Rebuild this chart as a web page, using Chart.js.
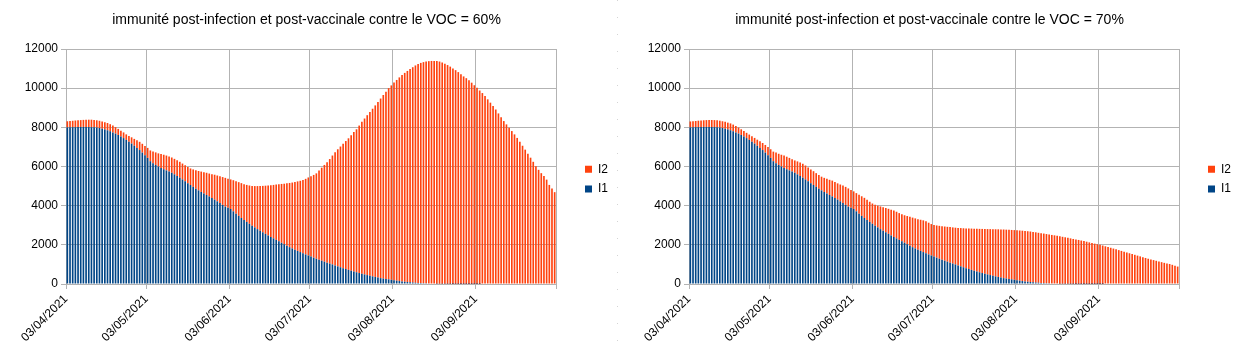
<!DOCTYPE html>
<html><head><meta charset="utf-8">
<script src="https://cdn.jsdelivr.net/npm/chart.js@4.4.1/dist/chart.umd.min.js"></script>
<style>
html,body{margin:0;padding:0;background:#fff;}
body{width:1236px;height:355px;position:relative;overflow:hidden;}
#c1{position:absolute;left:0;top:0;}
#c2{position:absolute;left:623px;top:0;}
#sep{position:absolute;left:617px;top:0;width:1px;height:355px;background:repeating-linear-gradient(to bottom,#d4d4d4 0px,#d4d4d4 1px,transparent 1px,transparent 17px);}
</style></head><body>
<canvas id="c1" width="613" height="355"></canvas>
<div id="sep"></div>
<canvas id="c2" width="613" height="355"></canvas>
<script>
// ---- data ----
const startDate = '03/04/2021';
const tickLabels = ['03/04/2021','03/05/2021','03/06/2021','03/07/2021','03/08/2021','03/09/2021'];
const seriesNames = ['I1','I2'];
const title60 = 'immunité post-infection et post-vaccinale contre le VOC = 60%';
const title70 = 'immunité post-infection et post-vaccinale contre le VOC = 70%';

const i1_60 = [
8000,8005,8010,8010,8015,8020,8020,8020,8015,8010,
8000,7990,7965,7930,7895,7850,7800,7740,7680,7610,
7530,7450,7360,7270,7170,7060,6950,6840,6710,6580,
6440,6270,6170,6080,6000,5920,5860,5800,5740,5680,
5600,5520,5430,5340,5245,5150,5055,4960,4870,4780,
4700,4620,4545,4470,4390,4310,4220,4130,4040,3950,
3890,3830,3710,3590,3480,3370,3270,3170,3075,2980,
2890,2800,2720,2640,2560,2480,2405,2330,2255,2180,
2105,2030,1955,1880,1815,1750,1690,1630,1570,1510,
1455,1400,1345,1290,1240,1190,1140,1090,1045,1000,
950,900,855,810,765,720,680,640,600,560,
525,490,455,420,390,360,330,300,280,260,
238,215,192,170,150,130,115,100,88,75,
65,55,48,40,35,30,26,22,18,15,
12,10,8,7,6,5,4,3,3,2,
2,1,1,1,1,0,0,0,0,0,
0,0,0,0,0,0,0,0,0,0,
0,0,0,0,0,0,0,0,0,0,
0,0,0];
const i2_60 = [
310,315,325,340,345,350,360,370,375,380,
380,370,370,370,365,370,360,350,330,310,
300,290,280,290,320,350,390,420,450,470,
510,550,600,640,670,720,740,760,770,780,
790,800,810,810,815,820,845,890,940,990,
1040,1090,1135,1170,1220,1270,1320,1370,1420,1470,
1490,1510,1590,1660,1720,1780,1830,1890,1955,2030,
2110,2200,2280,2370,2460,2550,2635,2730,2825,2920,
3005,3090,3185,3280,3365,3460,3550,3640,3740,3860,
3985,4100,4225,4360,4550,4750,4940,5130,5335,5560,
5780,5980,6165,6350,6535,6720,6920,7120,7300,7530,
7765,7960,8165,8360,8560,8760,8970,9170,9370,9560,
9762,9925,10098,10250,10400,10540,10665,10780,10892,10995,
11095,11175,11242,11290,11325,11350,11364,11368,11367,11345,
11298,11240,11172,11093,11004,10915,10816,10707,10597,10508,
10398,10279,10149,10019,9879,9750,9600,9430,9260,9090,
8910,8710,8510,8320,8150,7980,7810,7640,7460,7260,
7060,6860,6650,6450,6240,6010,5830,5660,5520,5330,
5060,4880,4690];

const i1_70 = [
8000,8005,8010,8010,8015,8020,8020,8020,8015,8010,
8000,7990,7965,7930,7895,7850,7800,7740,7680,7610,
7530,7450,7360,7270,7170,7060,6950,6840,6710,6580,
6440,6270,6170,6080,6000,5920,5860,5800,5740,5680,
5600,5520,5430,5340,5245,5150,5055,4960,4870,4780,
4700,4620,4545,4470,4390,4310,4220,4130,4040,3950,
3890,3830,3710,3590,3480,3370,3270,3170,3075,2980,
2890,2800,2720,2640,2560,2480,2405,2330,2255,2180,
2105,2030,1955,1880,1815,1750,1690,1630,1570,1510,
1455,1400,1345,1290,1240,1190,1140,1090,1045,1000,
950,900,855,810,765,720,680,640,600,560,
525,490,455,420,390,360,330,300,280,260,
238,215,192,170,150,130,115,100,88,75,
65,55,48,40,35,30,26,22,18,15,
12,10,8,7,6,5,4,3,3,2,
2,1,1,1,1,0,0,0,0,0,
0,0,0,0,0,0,0,0,0,0,
0,0,0,0,0,0,0,0,0,0,
0,0,0];
const i2_70 = [
300,305,315,330,335,340,350,355,360,360,
360,350,345,350,345,350,340,330,310,290,
280,270,270,270,290,310,340,360,390,410,
440,490,540,570,600,640,640,640,630,630,
660,680,710,710,705,700,705,700,690,700,
720,750,775,810,820,830,860,900,920,930,
910,900,930,970,1000,1030,1030,1030,1035,1070,
1110,1160,1200,1240,1280,1310,1345,1360,1365,1380,
1405,1440,1475,1510,1535,1560,1590,1620,1630,1620,
1605,1610,1645,1680,1710,1745,1780,1815,1845,1875,
1915,1955,1990,2030,2070,2110,2145,2180,2215,2252,
2283,2315,2347,2380,2405,2432,2458,2483,2495,2508,
2522,2537,2551,2563,2572,2580,2580,2580,2572,2565,
2550,2540,2527,2510,2490,2475,2459,2438,2417,2395,
2373,2350,2322,2293,2269,2245,2216,2187,2157,2123,
2088,2059,2029,1999,1964,1925,1885,1850,1810,1770,
1730,1690,1650,1610,1570,1530,1490,1450,1410,1370,
1330,1290,1255,1220,1185,1150,1115,1080,1050,1020,
980,935,890];

// ---- helpers ----
function parseDMY(s){ const [d,m,y] = s.split('/').map(Number); return Date.UTC(y, m-1, d); }
const DAY = 86400000;
const t0 = parseDMY(startDate);
const tickDays = tickLabels.map(l => Math.round((parseDMY(l) - t0) / DAY));

const FONT = "'Liberation Sans', Arial, sans-serif";
const GRID = '#b3b3b3';
const C_I1 = '#004586';
const C_I2 = '#ff420e';

function toPoints(arr){ return arr.map((v, i) => ({x: i + 0.5, y: v})); }

function makeChart(id, titleText, i1, i2){
  const nDays = i1.length;
  const allTicks = tickDays.concat([nDays]);
  return new Chart(document.getElementById(id), {
    type: 'bar',
    data: {
      datasets: [
        {label: seriesNames[0], data: toPoints(i1), backgroundColor: C_I1, borderWidth: 0, barPercentage: 0.62, categoryPercentage: 1},
        {label: seriesNames[1], data: toPoints(i2), backgroundColor: C_I2, borderWidth: 0, barPercentage: 0.62, categoryPercentage: 1}
      ]
    },
    options: {
      responsive: false,
      animation: false,
      devicePixelRatio: 1,
      layout: {padding: {left: 0, right: 0, top: 0, bottom: 0}},
      plugins: {
        tooltip: {enabled: false},
        title: {
          display: true, text: titleText, color: '#000',
          font: {family: FONT, size: 14, weight: 'normal'},
          padding: {top: 11.6, bottom: 20.6}
        },
        legend: {
          position: 'right', reverse: true, maxWidth: 35.6,
          labels: {boxWidth: 7, boxHeight: 7, padding: 7.6, color: '#000', font: {family: FONT, size: 12}},
          title: {display: true, text: '', padding: {top: 1, bottom: 1}, font: {size: 1}}
        }
      },
      scales: {
        x: {
          type: 'linear', stacked: true, offset: false,
          min: 0, max: nDays,
          grid: {color: GRID, lineWidth: 1, offset: false, tickLength: 5, drawTicks: true},
          border: {color: GRID},
          afterBuildTicks: (s) => { s.ticks = allTicks.map(v => ({value: v})); },
          afterFit: (s) => { s.height = 71; },
          ticks: {
            autoSkip: false, minRotation: 45, maxRotation: 45, color: '#000', padding: 3,
            font: {family: FONT, size: 12},
            callback: (v) => { const k = tickDays.indexOf(v); return k >= 0 ? tickLabels[k] : ''; }
          }
        },
        y: {
          stacked: true, min: 0, max: 12000,
          grid: {color: GRID, lineWidth: 1, tickLength: 5},
          border: {color: GRID},
          afterFit: (s) => { s.width = 66; },
          ticks: {stepSize: 2000, color: '#000', padding: 3, font: {family: FONT, size: 12},
                  callback: (v) => String(v)}
        },
        gap: {
          type: 'linear', position: 'right', display: true,
          grid: {display: false, drawTicks: false}, border: {display: false},
          ticks: {display: false},
          afterFit: (s) => { s.width = 21.4; }
        }
      }
    }
  });
}

makeChart('c1', title60, i1_60, i2_60);
makeChart('c2', title70, i1_70, i2_70);
</script>
</body></html>
